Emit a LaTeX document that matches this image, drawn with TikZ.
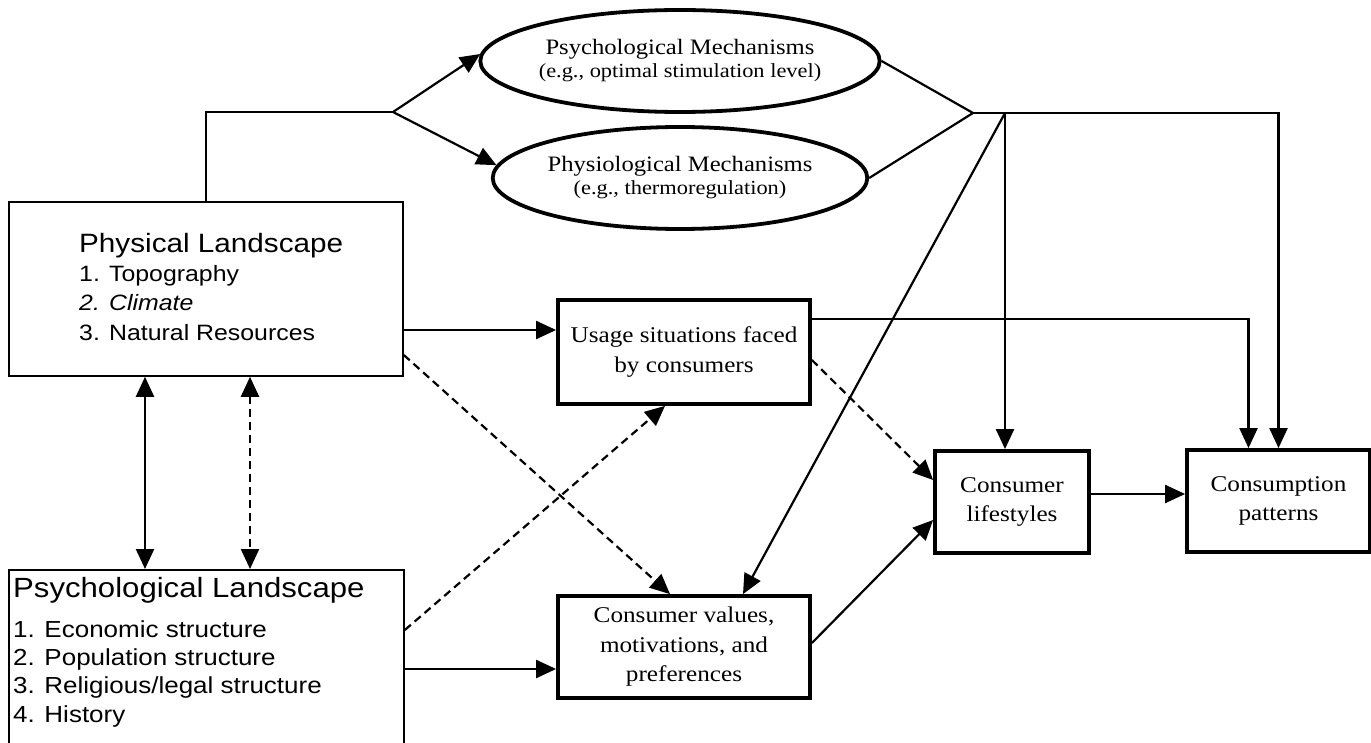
\documentclass[tikz,border=0pt]{standalone}
\usepackage{fontspec}
\setmainfont{Liberation Serif}[FakeStretch=1.12]
\setsansfont{Liberation Sans}[FakeStretch=1.12]
\usetikzlibrary{shapes.geometric,arrows.meta,calc}
\begin{document}
\begin{tikzpicture}[x=1pt,y=-1pt,
  conn/.style={line width=2.2pt},
  arr/.style={conn,-{Triangle[length=20pt,width=18pt]}},
  darr/.style={conn,{Triangle[length=20pt,width=18pt]}-{Triangle[length=20pt,width=18pt]}},
  dsh/.style={dash pattern=on 8pt off 5pt},
  tbox/.style={draw,line width=3.8pt,rectangle,align=center,inner sep=0pt,
    font=\fontsize{22.5}{29.5}\selectfont},
  lbox/.style={draw,line width=1.8pt,rectangle,anchor=north west,inner sep=0pt},
  mech/.style={draw,ellipse,line width=3.8pt,minimum width=364pt,minimum height=102pt,
    align=center,inner sep=0pt,font=\fontsize{22}{23}\selectfont},
  ltext/.style={anchor=base west,inner sep=0pt},
]
\useasboundingbox (0,0) rectangle (1371,743);

% landscapes
\node[lbox,minimum width=394pt,minimum height=174pt] (phys) at (8,201) {};
\node[lbox,minimum width=395pt,minimum height=200pt] (psyL) at (8,569) {};

\node[ltext,font=\sffamily\fontsize{26.5}{30}\selectfont] (physT) at (79,253) {Physical Landscape};
\node[ltext,font=\sffamily\fontsize{22.2}{29}\selectfont] (phys1) at (79,282) {1. Topography};
\node[ltext,font=\sffamily\itshape\fontsize{22.2}{29}\selectfont] (phys2) at (79,311) {2. Climate};
\node[ltext,font=\sffamily\fontsize{22.2}{29}\selectfont] (phys3) at (79,341) {3. Natural Resources};

\node[ltext,font=\sffamily\fontsize{27.8}{30}\selectfont] (psyT) at (13,597) {Psychological Landscape};
\node[ltext,font=\sffamily\fontsize{23.2}{29}\selectfont] (psy1) at (13,637) {1. Economic structure};
\node[ltext,font=\sffamily\fontsize{23.2}{29}\selectfont] (psy2) at (13,665) {2. Population structure};
\node[ltext,font=\sffamily\fontsize{23.2}{29}\selectfont] (psy3) at (13,693) {3. Religious/legal structure};
\node[ltext,font=\sffamily\fontsize{23.2}{29}\selectfont] (psy4) at (13,722) {4. History};

% mechanisms
\node[mech] (psyM) at (680,61) {Psychological Mechanisms\\[0pt]{\fontsize{20}{23}\selectfont (e.g., optimal stimulation level)}};
\node[mech] (phM) at (680,178) {Physiological Mechanisms\\[0pt]{\fontsize{20}{23}\selectfont (e.g., thermoregulation)}};

% boxes
\node[tbox,minimum width=252pt,minimum height=104pt] (usage) at (684,352) {Usage situations faced\\by consumers};
\node[tbox,minimum width=252pt,minimum height=102pt] (vals) at (684,647) {Consumer values,\\motivations, and\\preferences};
\node[tbox,minimum width=154pt,minimum height=102pt] (life) at (1012,502) {Consumer\\lifestyles};
\node[tbox,minimum width=183pt,minimum height=102pt] (cons) at (1278.5,501) {Consumption\\patterns};

% connectors
\coordinate (split) at (393,112);
\draw[conn] (phys.north) |- (split);
\draw[arr] (split) -- (psyM.178);
\draw[arr] (split) -- (phM.176);

\coordinate (C) at (973,113);
\coordinate (J) at (1005,113);
\draw[conn] (psyM.east) -- (C);
\draw[conn] (phM.east) -- (C);
\draw[arr] (C) -| (cons.north);
\draw[arr] (J) -- (J |- life.north);
\draw[arr] (J) -- ($(vals.north)+(59,0)$);

\draw[darr] (phys.south -| 145,0) -- (psyL.north -| 145,0);
\draw[darr,dsh] (phys.south -| 250,0) -- (psyL.north -| 250,0);

\draw[arr] (phys.east |- 0,330) -- (usage.west |- 0,330);
\draw[arr,dsh] (phys.east |- 0,355) -- ($(vals.north)+(-14,0)$);
\draw[arr,dsh] (psyL.east |- 0,630) -- ($(usage.south)+(-19,0)$);
\draw[arr] (psyL.east |- 0,669) -- (vals.west |- 0,669);

\draw[arr] (usage.east |- 0,319) -| ($(cons.north)+(-30,0)$);
\draw[arr,dsh] (usage.east |- 0,360) -- ($(life.west)+(0,-22)$);
\draw[arr] (vals.east |- 0,643) -- ($(life.west)+(0,18)$);
\draw[arr] (life.east |- 0,494) -- (cons.west |- 0,494);
\end{tikzpicture}
\end{document}
